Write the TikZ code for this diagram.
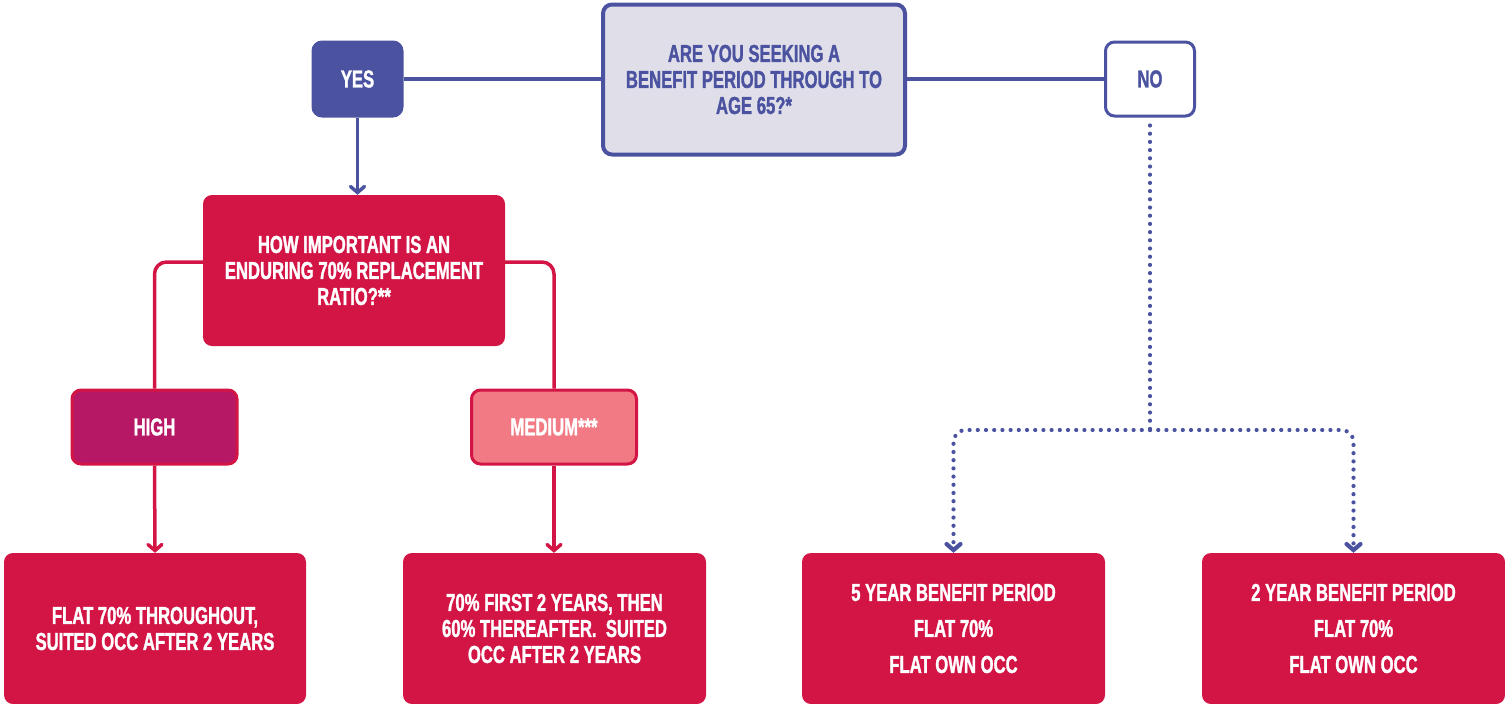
\documentclass[tikz,border=0pt]{standalone}
\usepackage{fontspec}
\setmainfont{Liberation Sans}[FakeStretch=0.68, BoldFeatures={FakeBold=1.3}]
\usetikzlibrary{arrows.meta}
\definecolor{cblue}{HTML}{4B53A1}
\definecolor{clav}{HTML}{E0DFE9}
\definecolor{cred}{HTML}{D31546}
\definecolor{cmag}{HTML}{B71866}
\definecolor{cpink}{HTML}{F17A84}
\tikzset{
  box/.style={rectangle, rounded corners=9pt, inner sep=0pt, align=center,
    font=\bfseries\fontsize{24.5}{26}\selectfont, text=white},
  redbox/.style={box, fill=cred},
  smallbox/.style={box, minimum width=165pt, minimum height=74pt, draw=cred, line width=3pt},
  bluebox/.style={box, minimum width=89pt, minimum height=74pt, draw=cblue, line width=3pt},
  bline/.style={draw=cblue, line width=3.5pt},
  rline/.style={draw=cred, line width=3.5pt, rounded corners=12pt},
  dline/.style={draw=cblue, line width=4.2pt, line cap=round, dash pattern=on 0pt off 8.2pt, rounded corners=12pt},
  tip/.style={-{Straight Barb[length=6pt,width=14pt,line cap=round]}},
}
\begin{document}
\begin{tikzpicture}[x=1pt,y=-1pt]
\useasboundingbox (0,0) rectangle (1505,704);
% top question
\node[box, fill=clav, draw=cblue, line width=4pt, text=cblue, minimum width=302pt, minimum height=150pt] (q1) at (754,79.5)
  {ARE YOU SEEKING A\\BENEFIT PERIOD THROUGH TO\\AGE 65?*};
\node[bluebox, fill=cblue] (yes) at (357.5,79) {YES};
\node[bluebox, fill=white, text=cblue] (no) at (1150,79) {NO};
% second question
\node[redbox, minimum width=302pt, minimum height=151pt] (q2) at (354,270.5)
  {HOW IMPORTANT IS AN\\ENDURING 70\% REPLACEMENT\\RATIO?**};
\node[smallbox, fill=cmag] (high) at (154.5,427) {HIGH};
\node[smallbox, fill=cpink] (med) at (554,427) {MEDIUM***};
% outcomes
\node[redbox, minimum width=302pt, minimum height=151pt] (b1) at (155,628.5)
  {FLAT 70\% THROUGHOUT,\\SUITED OCC AFTER 2 YEARS};
\node[redbox, minimum width=303pt, minimum height=151pt] (b2) at (554.5,628.5)
  {70\% FIRST 2 YEARS, THEN\\60\% THEREAFTER.\ \ SUITED\\OCC AFTER 2 YEARS};
\node[redbox, minimum width=303pt, minimum height=151pt, font=\bfseries\fontsize{24.5}{36}\selectfont] (b3) at (953.5,628.5)
  {5 YEAR BENEFIT PERIOD\\FLAT 70\%\\FLAT OWN OCC};
\node[redbox, minimum width=303pt, minimum height=151pt, font=\bfseries\fontsize{24.5}{36}\selectfont] (b4) at (1353.5,628.5)
  {2 YEAR BENEFIT PERIOD\\FLAT 70\%\\FLAT OWN OCC};
% connectors
\draw[bline] (yes.east) -- (yes.east -| q1.west);
\draw[bline] (no.west -| q1.east) -- (no.west);
\draw[bline, tip] (yes.south) -- (yes.south |- q2.north);
\draw[rline] ([yshift=8.5pt]q2.west) -| (high.north);
\draw[rline] ([yshift=8.5pt]q2.east) -| (med.north);
\draw[rline, tip] (high.south) -- (b1.north);
\draw[rline, tip] (med.south) -- (med.south |- b2.north);
\coordinate (split) at (1150,430);
\draw[dline] ([yshift=-8pt]no.south) -- (split);
\draw[dline, tip] (split) -| (b3.north);
\draw[dline, tip] (split) -| (b4.north);
\end{tikzpicture}
\end{document}
